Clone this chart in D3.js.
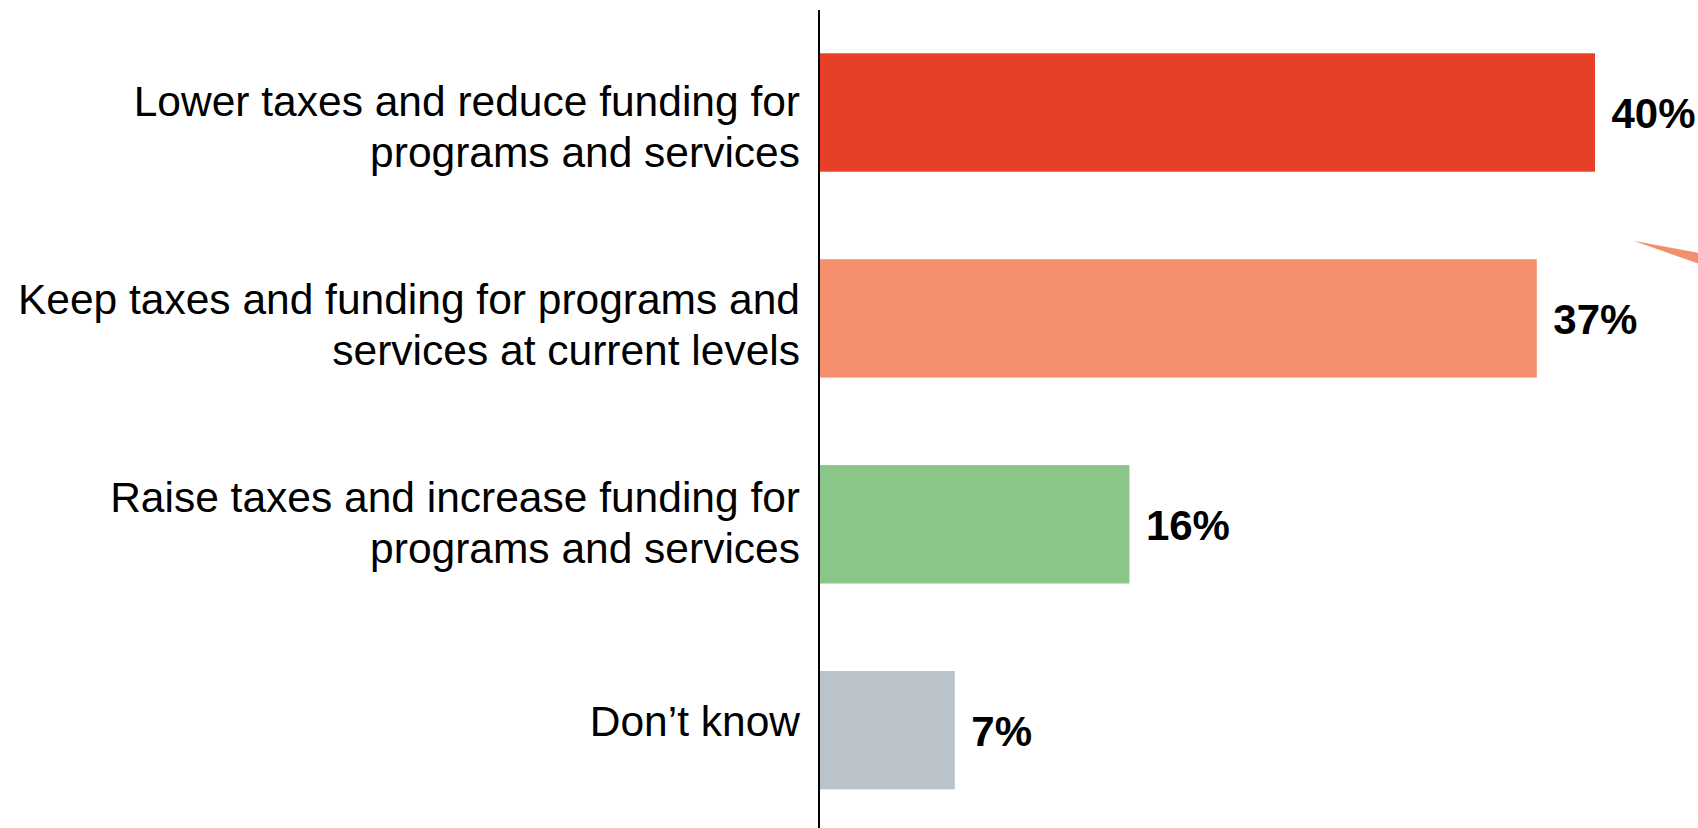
<!DOCTYPE html>
<html>
<head>
<meta charset="utf-8">
<script src="https://cdn.jsdelivr.net/npm/d3@7/dist/d3.min.js"></script>
<style>
  html, body { margin: 0; padding: 0; background: #ffffff; }
  svg { display: block; }
  text { font-family: "Liberation Sans", Arial, Helvetica, sans-serif; }
</style>
</head>
<body>
<div id="chart"></div>
<script>
// Survey responses: preferred approach to taxes and public funding
const categories = [
  "Lower taxes and reduce funding for programs and services",
  "Keep taxes and funding for programs and services at current levels",
  "Raise taxes and increase funding for programs and services",
  "Don’t know"
];
const categoryLines = [
  ["Lower taxes and reduce funding for", "programs and services"],
  ["Keep taxes and funding for programs and", "services at current levels"],
  ["Raise taxes and increase funding for", "programs and services"],
  ["Don’t know"]
];
const values = [40, 37, 16, 7];
const barColors = ["#E84028", "#F4906F", "#8AC687", "#B9C3C9"];

const W = 1698, H = 828;

const svg = d3.select("#chart").append("svg")
  .attr("width", W)
  .attr("height", H);

// Horizontal value scale: 0% sits on the vertical baseline
const x = d3.scaleLinear().domain([0, 40]).range([819, 1595]);

// Bar rows
const y = d3.scaleBand()
  .domain(categories)
  .range([53.3, 789.4])
  .paddingInner(0.425)
  .paddingOuter(0);

// Category text rows (text boxes are spaced slightly tighter than the bars)
const yLabel = d3.scalePoint()
  .domain(categories)
  .range([126, 720.5]);

// Bars
svg.append("g")
  .selectAll("rect")
  .data(categories)
  .join("rect")
  .attr("x", x(0))
  .attr("y", d => y(d))
  .attr("width", (d, i) => x(values[i]) - x(0))
  .attr("height", y.bandwidth())
  .attr("fill", (d, i) => barColors[i]);

// Value labels at bar ends
svg.append("g")
  .selectAll("text")
  .data(categories)
  .join("text")
  .attr("x", (d, i) => x(values[i]) + 16.5)
  .attr("y", d => y(d) + y.bandwidth() / 2 + 15.5)
  .attr("font-size", 42)
  .attr("font-weight", "bold")
  .attr("fill", "#000")
  .text((d, i) => values[i] + "%");

// Category labels, right-aligned against the baseline
const lineHeight = 50.6;
const capHalf = 15.2;
const labels = svg.append("g")
  .selectAll("text")
  .data(categories)
  .join("text")
  .attr("text-anchor", "end")
  .attr("font-size", 42.5)
  .attr("fill", "#000");

labels.each(function(d, i) {
  const lines = categoryLines[i];
  const first = yLabel(d) - (lines.length - 1) * lineHeight / 2 + capHalf;
  d3.select(this).selectAll("tspan")
    .data(lines)
    .join("tspan")
    .attr("x", 800)
    .attr("y", (l, j) => first + j * lineHeight)
    .text(l => l);
});

// Vertical baseline
svg.append("line")
  .attr("x1", x(0))
  .attr("x2", x(0))
  .attr("y1", 10)
  .attr("y2", H)
  .attr("stroke", "#000")
  .attr("stroke-width", 2);

// Callout pointer entering from the right edge
svg.append("path")
  .attr("d", "M1633.3,240.7 L1760,264.2 L1760,285.2 Z")
  .attr("fill", "#F4906F");
</script>
</body>
</html>
